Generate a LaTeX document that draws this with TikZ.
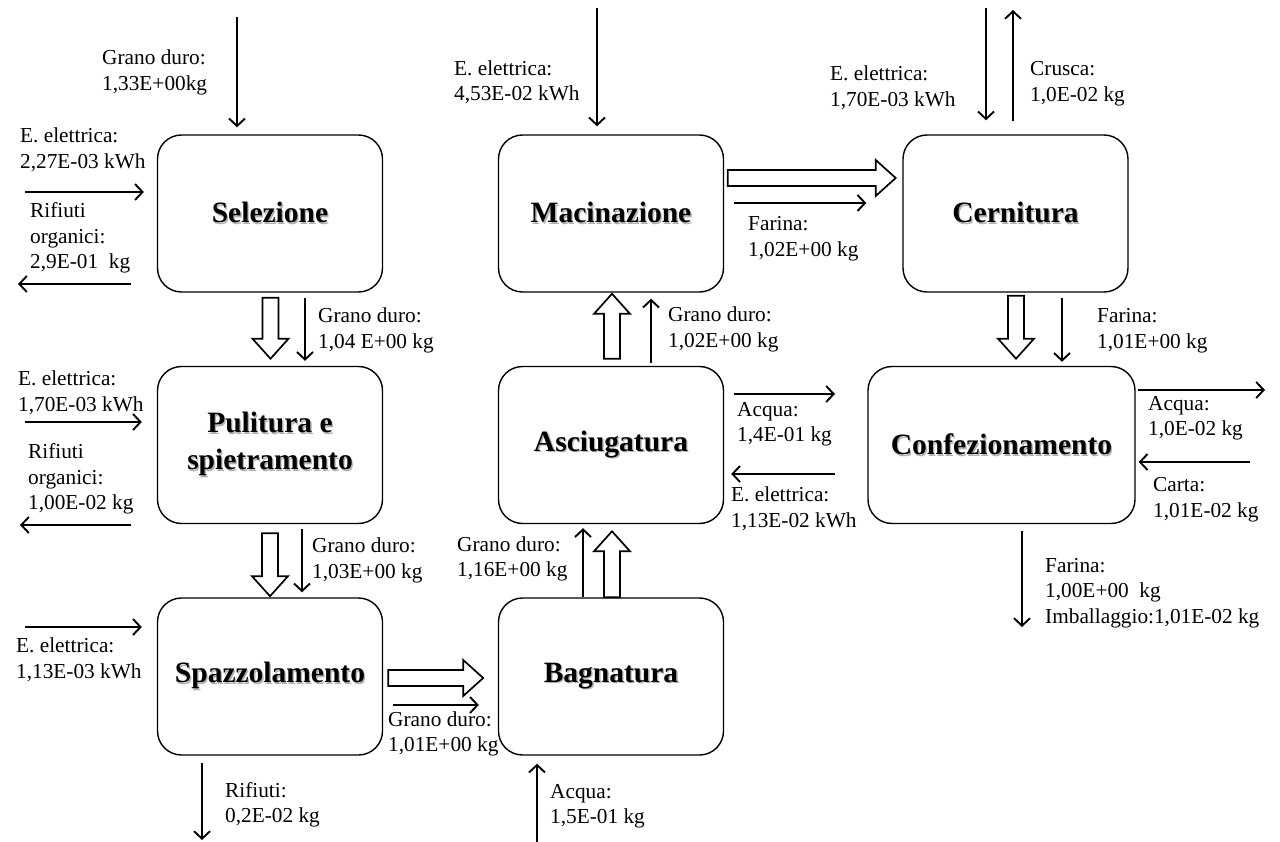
\documentclass[tikz,border=0pt]{standalone}
\usepackage{fontspec}
\setmainfont{Liberation Serif}
\usetikzlibrary{arrows.meta,calc}

% bold title with a soft grey drop shadow
\newcommand\shtext[1]{\makebox[0pt][l]{\hspace{1.3pt}\raisebox{-1.6pt}{\color{black!30}#1}}#1}

\tikzset{
  proc/.style={draw, line width=1.4pt, rounded corners=24pt, minimum width=225pt,
    minimum height=157pt, fill=white, inner sep=0pt, align=center,
    font=\fontsize{29.5}{37}\selectfont\bfseries},
  lab/.style={anchor=west, inner sep=0pt, align=left,
    font=\fontsize{21.3}{25.5}\selectfont},
  flow/.style={line width=1.9pt,
    -{Straight Barb[length=7.5pt,width=16pt,line width=1.9pt]}},
  pics/blockarr/.style={code={
    \draw[line width=1.7pt, fill=white, line join=miter]
      (0,-8) -- (#1-20,-8) -- (#1-20,-18) -- (#1,0) -- (#1-20,18)
      -- (#1-20,8) -- (0,8) -- cycle;}}
}

\begin{document}
\begin{tikzpicture}[x=1pt,y=-1pt]
\fill[white] (0,0) rectangle (1280,842);
\useasboundingbox (0,0) rectangle (1280,842);

% process steps
\node[proc] (sel) at (270,213.5) {\shtext{Selezione}};
\node[proc] (pul) at (270,445) {\shtext{Pulitura e}\\\shtext{spietramento}};
\node[proc] (spa) at (270,676.5) {\shtext{Spazzolamento}};
\node[proc] (bag) at (611,676.5) {\shtext{Bagnatura}};
\node[proc] (asc) at (611,445) {\shtext{Asciugatura}};
\node[proc] (mac) at (611,213.5) {\shtext{Macinazione}};
\node[proc] (cer) at (1015.5,213.5) {\shtext{Cernitura}};
\node[proc, minimum width=267pt] (con) at (1001.5,445) {\shtext{Confezionamento}};

% free ends of input/output flows
\coordinate (selIn) at (237,17);
\coordinate (selE) at (25,192);
\coordinate (selR) at (18,284);
\coordinate (pulE) at (25,422);
\coordinate (pulR) at (20,525);
\coordinate (spaE) at (25,627);
\coordinate (spaR) at (202,840);
\coordinate (bagA) at (537,842);
\coordinate (ascA) at (835,394);
\coordinate (ascE) at (835,474);
\coordinate (macE) at (597,8);
\coordinate (cerE) at (986,8);
\coordinate (cerC) at (1013,10);
\coordinate (conA) at (1265,390);
\coordinate (conC) at (1250,462);
\coordinate (conF) at (1022,627);

% Selezione
\draw[flow] (selIn) -- ($(sel.north)+(-33,-7)$);
\draw[flow] (selE) -- ($(sel.west)+(-13,-21.5)$);
\draw[flow] ($(sel.west)+(-26,70.5)$) -- (selR);
\node[lab] (t1) at (102,72.5) {Grano duro:\\1,33E+00kg};
\node[lab] (t2) at (20,150) {E. elettrica:\\2,27E-03 kWh};
\node[lab] (t3) at (30,238) {Rifiuti\\organici:\\2,9E-01~~kg};

% Selezione -> Pulitura
\pic[rotate=-90] at ($(sel.south)+(0.5,5)$) {blockarr=61};
\draw[flow] ($(sel.south)+(35,5)$) -- ($(pul.north)+(35,-5)$);
\node[lab] (t4) at (318,330.5) {Grano duro:\\1,04 E+00 kg};

% Pulitura
\draw[flow] (pulE) -- ($(pul.west)+(-15,-23)$);
\draw[flow] ($(pul.west)+(-26,80)$) -- (pulR);
\node[lab] (t5) at (18,392.5) {E. elettrica:\\1,70E-03 kWh};
\node[lab] (t6) at (28,479) {Rifiuti\\organici:\\1,00E-02 kg};

% Pulitura -> Spazzolamento
\pic[rotate=-90] at ($(pul.south)+(0,9)$) {blockarr=63};
\draw[flow] ($(pul.south)+(32,5)$) -- ($(spa.north)+(32,-5)$);
\node[lab] (t7) at (312,560.5) {Grano duro:\\1,03E+00 kg};

% Spazzolamento
\draw[flow] (spaE) -- ($(spa.west)+(-15,-49.5)$);
\draw[flow] ($(spa.south)+(-68,7)$) -- (spaR);
\node[lab] (t8) at (16,659.5) {E. elettrica:\\1,13E-03 kWh};
\node[lab] (t9) at (225,805) {Rifiuti:\\0,2E-02 kg};

% Spazzolamento -> Bagnatura
\pic at ($(spa.east)+(5,1.5)$) {blockarr=95};
\draw[flow] ($(spa.east)+(10,28.5)$) -- ($(bag.west)+(-19,28.5)$);
\node[lab] (t10) at (388,734) {Grano duro:\\1,01E+00 kg};

% Bagnatura
\draw[flow] (bagA) -- ($(bag.south)+(-74,8)$);
\node[lab] (t11) at (550,806.5) {Acqua:\\1,5E-01 kg};

% Bagnatura -> Asciugatura
\draw[flow] ($(bag.north)+(-28,0)$) -- ($(asc.south)+(-28,4)$);
\pic[rotate=90] at ($(bag.north)+(1,0)$) {blockarr=66};
\node[lab] (t12) at (457,559) {Grano duro:\\1,16E+00 kg};

% Asciugatura
\draw[flow] ($(asc.east)+(10,-51)$) -- (ascA);
\draw[flow] (ascE) -- ($(asc.east)+(7,29)$);
\node[lab] (t13) at (737,424.5) {Acqua:\\1,4E-01 kg};
\node[lab] (t14) at (731,508.5) {E. elettrica:\\1,13E-02 kWh};

% Asciugatura -> Macinazione
\pic[rotate=90] at ($(asc.north)+(1,-7)$) {blockarr=65};
\draw[flow] ($(asc.north)+(40,-3)$) -- ($(mac.south)+(40,6)$);
\node[lab] (t15) at (668,329.5) {Grano duro:\\1,02E+00 kg};

% Macinazione
\draw[flow] (macE) -- ($(mac.north)+(-14,-8)$);
\node[lab] (t16) at (454,82.5) {E. elettrica:\\4,53E-02 kWh};

% Macinazione -> Cernitura
\pic at ($(mac.east)+(3.5,-35.5)$) {blockarr=168};
\draw[flow] ($(mac.east)+(9.5,-10.5)$) -- ($(cer.west)+(-36,-10.5)$);
\node[lab] (t17) at (748,238.5) {Farina:\\1,02E+00 kg};

% Cernitura
\draw[flow] (cerE) -- ($(cer.north)+(-29.5,-14)$);
\draw[flow] ($(cer.north)+(-2.5,-13)$) -- (cerC);
\node[lab] (t18) at (830,88) {E. elettrica:\\1,70E-03 kWh};
\node[lab] (t19) at (1030,83.5) {Crusca:\\1,0E-02 kg};

% Cernitura -> Confezionamento
\pic[rotate=-90] at ($(cer.south)+(0.5,3)$) {blockarr=63};
\draw[flow] ($(cer.south)+(46.5,5)$) -- ($(con.north)+(60.5,-4)$);
\node[lab] (t20) at (1097,330.5) {Farina:\\1,01E+00 kg};

% Confezionamento
\draw[flow] ($(con.east)+(2,-55)$) -- (conA);
\draw[flow] (conC) -- ($(con.east)+(3,17)$);
\draw[flow] ($(con.south)+(20.5,7)$) -- (conF);
\node[lab] (t21) at (1148,418.5) {Acqua:\\1,0E-02 kg};
\node[lab] (t22) at (1153,499.5) {Carta:\\1,01E-02 kg};
\node[lab] (t23) at (1045,593) {Farina:\\1,00E+00~~kg\\Imballaggio:1,01E-02 kg};
\end{tikzpicture}
\end{document}
